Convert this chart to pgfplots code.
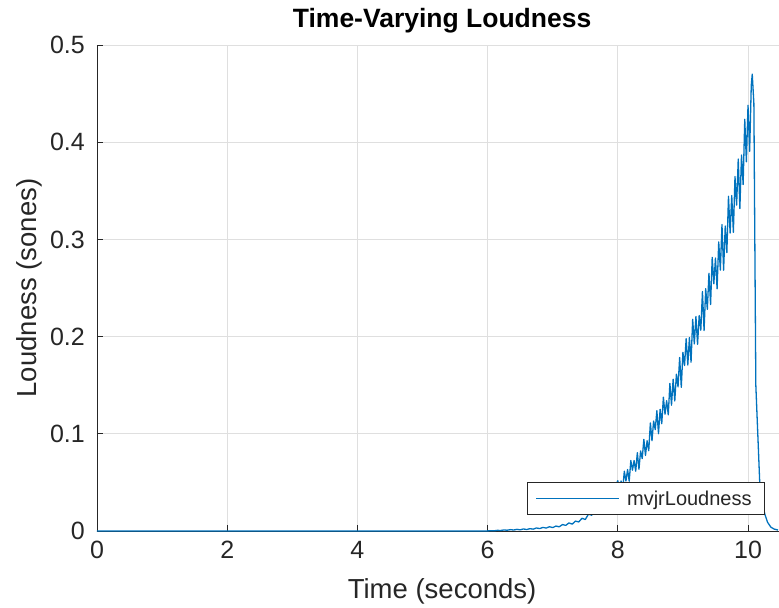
\documentclass[border=0pt]{standalone}
\usepackage{fontspec}
\setmainfont{Liberation Sans}
\usepackage{pgfplots}
\pgfplotsset{compat=1.18}
\definecolor{mblue}{HTML}{0072BD}
\definecolor{axgray}{HTML}{262626}
\definecolor{gridgray}{HTML}{DFDFDF}
\begin{document}
\begin{tikzpicture}
\begin{axis}[
  at={(0,0)}, anchor=south west,
  width=682bp, height=486bp, scale only axis,
  xmin=0, xmax=10.476, ymin=0, ymax=0.5,
  axis x line*=bottom, axis y line*=left,
  axis line style={axgray, line width=0.8bp},
  xtick={0,2,4,6,8,10},
  ytick={0,0.1,0.2,0.3,0.4,0.5},
  tick align=inside, major tick length=6bp,
  tick style={axgray, line width=0.8bp},
  grid=major, major grid style={gridgray, line width=0.8bp},
  /pgf/number format/assume math mode=true,
  /pgf/number format/fixed, /pgf/number format/precision=1,
  ticklabel style={font=\fontsize{25bp}{30bp}\selectfont, text=axgray},
  xticklabel style={anchor=north, inner sep=0pt, yshift=-10bp},
  yticklabel style={anchor=east, inner sep=0pt, xshift=-12bp},
  xlabel={Time (seconds)},
  ylabel={Loudness (sones)},
  label style={font=\fontsize{27.5bp}{33bp}\selectfont, text=axgray, inner sep=0pt},
  xlabel style={at={(axis description cs:0.506,-0.1379)}, anchor=base},
  ylabel style={at={(axis description cs:-0.088,0.5)}, anchor=base, rotate=0},
  title={\bfseries Time-Varying Loudness},
  title style={at={(axis description cs:0.506,1.0247)}, anchor=base, inner sep=0pt, font=\fontsize{26.5bp}{32bp}\selectfont},
  legend style={at={(axis description cs:0.9795,0.033)}, anchor=south east,
    draw=axgray, line width=0.8bp, fill=white,
    font=\fontsize{20bp}{24bp}\selectfont, text=axgray,
    inner xsep=8bp, inner ysep=8bp,
    nodes={inner sep=0pt}},
  legend image code/.code={\draw[#1, line width=1.2bp] (0bp,0bp) -- (83bp,0bp); \path (90bp,0bp);},
  legend cell align=left,
]
\addplot[mblue, line width=1.3bp, line join=round] coordinates {
(0,0) (1,0) (2,0) (3,0) (4,0) (5,0) (5.8,0)
(6.00,0.0001) (6.05,0.0003) (6.10,0.0002) (6.15,0.0007) (6.20,0.0005)
(6.25,0.0011) (6.30,0.0008) (6.35,0.0014) (6.40,0.0010) (6.45,0.0017)
(6.50,0.0012) (6.55,0.0021) (6.60,0.0015) (6.65,0.0024) (6.70,0.0019)
(6.75,0.0031) (6.80,0.0025) (6.85,0.0037) (6.90,0.0030) (6.95,0.0044)
(7.00,0.0035) (7.05,0.0051) (7.10,0.0043) (7.15,0.0066) (7.20,0.0058)
(7.25,0.0083) (7.30,0.0071) (7.35,0.0102) (7.40,0.0093) (7.45,0.0131)
(7.50,0.0118) (7.55,0.0174) (7.60,0.0162) (7.65,0.0235) (7.70,0.0208)
(7.75,0.0291) (7.80,0.0268) (7.85,0.0362) (7.90,0.0331) (7.95,0.0445)
(8.000,0.0517) (8.025,0.0420) (8.050,0.0515) (8.075,0.0426) (8.100,0.0615)
(8.125,0.0514) (8.150,0.0632) (8.175,0.0513) (8.200,0.0725) (8.225,0.0625)
(8.250,0.0725) (8.275,0.0615) (8.300,0.0806) (8.325,0.0635) (8.350,0.0824)
(8.375,0.0745) (8.400,0.0943) (8.425,0.0778) (8.450,0.0928) (8.475,0.0826)
(8.500,0.1112) (8.525,0.0928) (8.550,0.1131) (8.575,0.1043) (8.600,0.1238)
(8.625,0.1002) (8.650,0.1252) (8.675,0.1104) (8.700,0.1376) (8.725,0.1201)
(8.750,0.1341) (8.775,0.1195) (8.800,0.1518) (8.825,0.1295) (8.850,0.1561)
(8.875,0.1338) (8.900,0.1613) (8.925,0.1483) (8.950,0.1785) (8.975,0.1478)
(9.000,0.1838) (9.025,0.1702) (9.050,0.1979) (9.075,0.1707) (9.100,0.1990)
(9.125,0.1737) (9.150,0.2178) (9.175,0.1925) (9.200,0.2207) (9.225,0.1921)
(9.250,0.2217) (9.275,0.2066) (9.300,0.2464) (9.325,0.2062) (9.350,0.2493)
(9.375,0.2281) (9.400,0.2652) (9.425,0.2330) (9.450,0.2815) (9.475,0.2543)
(9.500,0.2808) (9.525,0.2492) (9.550,0.2974) (9.575,0.2684) (9.600,0.3152)
(9.625,0.2683) (9.650,0.3137) (9.675,0.2864) (9.700,0.3444) (9.725,0.3066)
(9.750,0.3451) (9.775,0.3073) (9.800,0.3646) (9.825,0.3352) (9.850,0.3827)
(9.875,0.3317) (9.900,0.3868) (9.925,0.3565) (9.950,0.4236) (9.975,0.3798)
(10.000,0.4380) (10.025,0.3905) (10.050,0.4585) (10.065,0.4700)
(10.09,0.4400) (10.12,0.1500) (10.18,0.0500) (10.22,0.0280) (10.26,0.0170)
(10.30,0.0090) (10.35,0.0040) (10.40,0.0020) (10.46,0.0010)
};
\addlegendentry{mvjrLoudness\rule{5bp}{0pt}}
\end{axis}
\pgfresetboundingbox
\path[use as bounding box] (-97bp,-77bp) rectangle (682bp,531bp);
\end{tikzpicture}
\end{document}
